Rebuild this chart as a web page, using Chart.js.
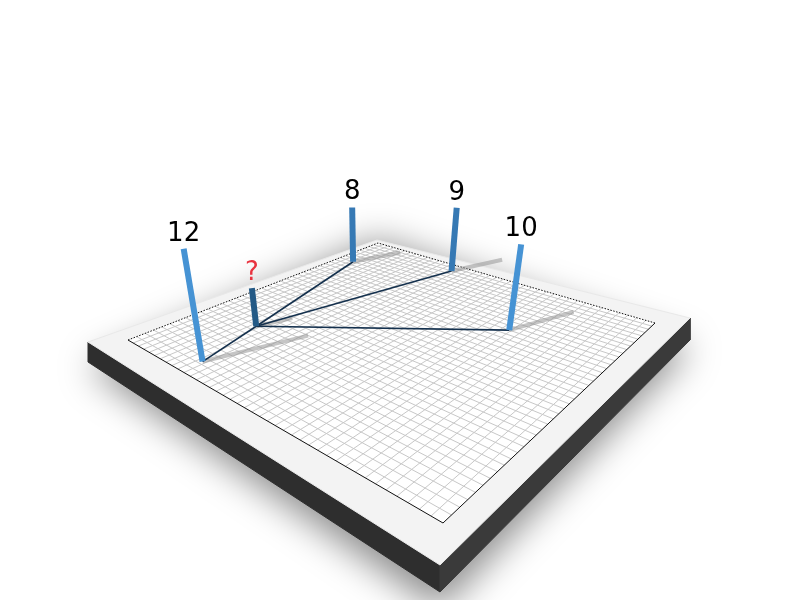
<!DOCTYPE html>
<html>
<head>
<meta charset="utf-8">
<script src="https://cdn.jsdelivr.net/npm/chart.js@4"></script>
<style>
  html, body { margin: 0; padding: 0; background: #fff; }
  canvas { display: block; }
</style>
</head>
<body>
<canvas id="board" width="800" height="600"></canvas>
<script>
/* ── Data ── */
const poleLabels = ['12', '8', '9', '10'];
const poleValues = [12, 8, 9, 10];
const poleU      = [0.06, 0.80, 0.95, 0.70];   // grid position along back-left edge
const poleV      = [0.24, 0.06, 0.36, 0.72];   // grid position along front-left edge
const unknownLabel = '?';
const unknownValue = 4.5;
const unknownU     = 0.27;
const unknownV     = 0.19;

/* ── Scene geometry (screen frame of the board) ── */
const GRID_CORNERS  = [[128, 340], [378, 243], [655, 323], [443, 523]];
const BOARD_CORNERS = [[88, 342], [377, 240], [690, 318], [440, 565]];
const GRID_N        = 40;
const THICK_L = 20, THICK_F = 27, THICK_R = 22;

function homography(q) {
    const [[x0, y0], [x1, y1], [x2, y2], [x3, y3]] = q;
    const dx1 = x1 - x2, dx2 = x3 - x2, dx3 = x0 - x1 + x2 - x3;
    const dy1 = y1 - y2, dy2 = y3 - y2, dy3 = y0 - y1 + y2 - y3;
    const den = dx1 * dy2 - dx2 * dy1;
    const g = (dx3 * dy2 - dx2 * dy3) / den;
    const h = (dx1 * dy3 - dx3 * dy1) / den;
    const a = x1 - x0 + g * x1, b = x3 - x0 + h * x3;
    const d = y1 - y0 + g * y1, e = y3 - y0 + h * y3;
    return (u, v) => {
        const w = g * u + h * v + 1;
        return { x: (a * u + b * v + x0) / w, y: (d * u + e * v + y0) / w, w };
    };
}
const project = homography(GRID_CORNERS);
const wMid = project(0.5, 0.5).w;

function ground(u, v) { const p = project(u, v); return { x: p.x, y: p.y }; }
function poleTop(u, v, value) {
    const p = project(u, v);
    const hpx = value * 8.6 * (wMid / p.w);
    return { x: p.x + (p.x - 370) * hpx / 1000, y: p.y - hpx };
}
function shadowEnd(u, v, value) { return ground(u + value * 0.022, v + value * 0.008); }

const pt = ([x, y]) => ({ x, y });
const B = BOARD_CORNERS.map(pt);
const down = (p, t) => ({ x: p.x, y: p.y + t });

const datasets = [];
function add(ds) { datasets.push(Object.assign({ pointRadius: 0, showLine: true, fill: false, tension: 0 }, ds)); }

// board faces
add({ data: [B[0], B[3], down(B[3], THICK_F), down(B[0], THICK_L), B[0]], backgroundColor: '#2e2e2e', borderColor: '#2e2e2e', borderWidth: 1, fill: 'shape' });
add({ data: [B[3], B[2], down(B[2], THICK_R), down(B[3], THICK_F), B[3]], backgroundColor: '#3a3a3a', borderColor: '#3a3a3a', borderWidth: 1, fill: 'shape' });
add({ data: [...B, B[0]], backgroundColor: '#f3f3f3', borderColor: '#e8e8e8', borderWidth: 1, fill: 'shape' });
const G = GRID_CORNERS.map(pt);
add({ data: [...G, G[0]], backgroundColor: '#ffffff', borderColor: 'rgba(0,0,0,0)', borderWidth: 0, fill: 'shape' });

// grid lines
for (let i = 1; i < GRID_N; i++) {
    const t = i / GRID_N;
    add({ data: [ground(t, 0), ground(t, 1)], borderColor: '#c8c8c8', borderWidth: 1 });
    add({ data: [ground(0, t), ground(1, t)], borderColor: '#c8c8c8', borderWidth: 1 });
}
// grid border: dotted on back edges, solid on front edges
add({ data: [ground(0, 0), ground(1, 0), ground(1, 1)], borderColor: '#111', borderWidth: 1, borderDash: [1.5, 1.5] });
add({ data: [ground(0, 0), ground(0, 1), ground(1, 1)], borderColor: '#111', borderWidth: 1 });

// pole shadows
const allU = [...poleU, unknownU], allV = [...poleV, unknownV], allVal = [...poleValues, unknownValue];
allU.forEach((u, i) => {
    add({ data: [ground(u, allV[i]), shadowEnd(u, allV[i], allVal[i])], borderColor: 'rgba(150,150,150,0.55)', borderWidth: 4 });
});

// links from unknown point
poleU.forEach((u, i) => {
    add({ data: [ground(unknownU, unknownV), ground(u, poleV[i])], borderColor: '#14304d', borderWidth: 1.6 });
});

// poles
add({ data: [ground(unknownU, unknownV), poleTop(unknownU, unknownV, unknownValue)], borderColor: '#245a86', borderWidth: 6 });
poleValues.forEach((val, i) => {
    add({ data: [ground(poleU[i], poleV[i]), poleTop(poleU[i], poleV[i], val)], borderColor: i === 1 || i === 2 ? '#3679b4' : '#4693d4', borderWidth: 6 });
});

datasets.forEach((ds, i) => { ds.order = datasets.length - i; });

const sceneDecor = {
    id: 'sceneDecor',
    beforeDatasetsDraw(chart) {
        const { ctx, scales: { x, y } } = chart;
        const px = p => [x.getPixelForValue(p.x), y.getPixelForValue(p.y)];
        ctx.save();
        ctx.filter = 'blur(18px)';
        ctx.fillStyle = 'rgba(0,0,0,0.45)';
        ctx.beginPath();
        [down(B[0], 25), down(B[3], 45), down(B[2], 30), B[1]].forEach((p, i) => {
            const [a, b] = px(p); i ? ctx.lineTo(a, b) : ctx.moveTo(a, b);
        });
        ctx.closePath();
        ctx.fill();
        ctx.restore();
    },
    afterDatasetsDraw(chart) {
        const { ctx, scales: { x, y } } = chart;
        ctx.save();
        ctx.textAlign = 'center';
        ctx.textBaseline = 'bottom';
        ctx.font = '26px "DejaVu Sans", sans-serif';
        const label = (text, p, color) => {
            ctx.fillStyle = color;
            ctx.fillText(text, x.getPixelForValue(p.x), y.getPixelForValue(p.y) - 2);
        };
        poleLabels.forEach((t, i) => label(t, poleTop(poleU[i], poleV[i], poleValues[i]), '#000'));
        label(unknownLabel, poleTop(unknownU, unknownV, unknownValue), '#e8333f');
        ctx.restore();
    }
};

new Chart(document.getElementById('board').getContext('2d'), {
    type: 'scatter',
    plugins: [sceneDecor],
    data: { datasets },
    options: {
        responsive: false,
        animation: false,
        events: [],
        layout: { padding: 0 },
        scales: {
            x: { type: 'linear', min: 0, max: 800, display: false },
            y: { type: 'linear', min: 0, max: 600, reverse: true, display: false },
        },
        plugins: { legend: { display: false }, tooltip: { enabled: false } },
    }
});
</script>
</body>
</html>
